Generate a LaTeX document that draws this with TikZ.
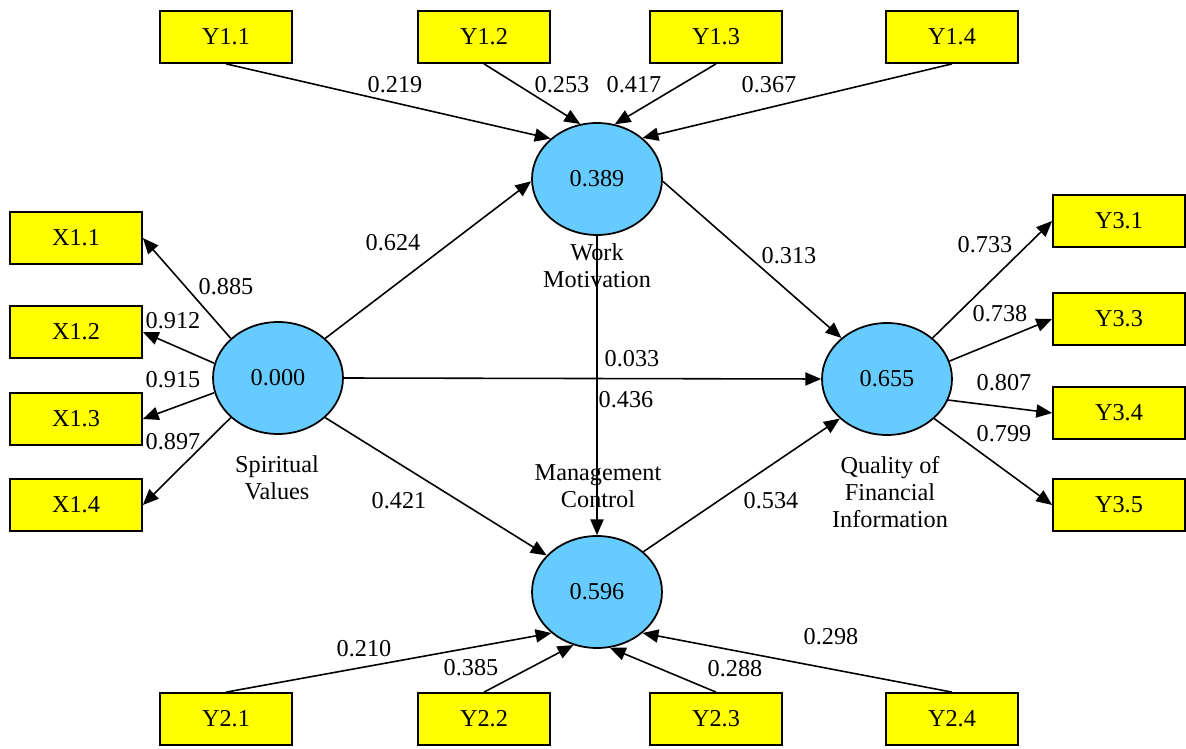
\documentclass[tikz,border=0pt]{standalone}
\usepackage{fontspec}
\setmainfont{Liberation Serif}
\usetikzlibrary{arrows.meta,shapes.geometric}
\definecolor{boxyellow}{HTML}{FFFF00}
\definecolor{latentblue}{HTML}{66CCFF}
\begin{document}
\begin{tikzpicture}[x=0.02cm,y=-0.02cm,
  font=\fontsize{13.8}{15.3}\selectfont,
  indicator/.style={draw=black,line width=1pt,fill=boxyellow,minimum width=2.64cm,minimum height=1.04cm,inner sep=0pt},
  latent/.style={ellipse,draw=black,line width=1pt,fill=latentblue,minimum width=2.6cm,minimum height=2.24cm,inner sep=0pt},
  conn/.style={line width=0.9pt,-{Triangle[length=9pt,width=7.5pt]}},
  lbl/.style={inner sep=0pt},
  caption/.style={align=center,inner sep=0pt}]
\useasboundingbox (0,0) rectangle (1186,749);
% latent variables
\node[latent] (SV) at (278,378) {0.000};
\node[latent] (WM) at (597,179) {0.389};
\node[latent] (QF) at (887,379) {0.655};
\node[latent] (MC) at (597,592) {0.596};
% top indicators
\node[indicator] (Y11) at (226,37) {Y1.1};
\node[indicator] (Y12) at (484,37) {Y1.2};
\node[indicator] (Y13) at (716,37) {Y1.3};
\node[indicator] (Y14) at (952,37) {Y1.4};
% bottom indicators
\node[indicator] (Y21) at (226,719) {Y2.1};
\node[indicator] (Y22) at (484,719) {Y2.2};
\node[indicator] (Y23) at (716,719) {Y2.3};
\node[indicator] (Y24) at (952,719) {Y2.4};
% left indicators
\node[indicator] (X11) at (76,238) {X1.1};
\node[indicator] (X12) at (76,332) {X1.2};
\node[indicator] (X13) at (76,419) {X1.3};
\node[indicator] (X14) at (76,505) {X1.4};
% right indicators
\node[indicator] (Y31) at (1119,221) {Y3.1};
\node[indicator] (Y33) at (1119,319) {Y3.3};
\node[indicator] (Y34) at (1119,413) {Y3.4};
\node[indicator] (Y35) at (1119,505) {Y3.5};
% connectors
\draw[conn] (Y11.south) -- (WM.139);
\draw[conn] (Y12.south) -- (WM.107);
\draw[conn] (Y13.south) -- (WM.72);
\draw[conn] (Y14.south) -- (WM.42);
\draw[conn] (Y21.north) -- (MC.222);
\draw[conn] (Y22.north) -- (MC.246);
\draw[conn] (Y23.north) -- (MC.283);
\draw[conn] (Y24.north) -- (MC.318);
\draw[conn] (SV.140) -- (X11.east);
\draw[conn] (SV.167) -- (X12.east);
\draw[conn] (SV.193) -- (X13.east);
\draw[conn] (SV.220) -- (X14.east);
\draw[conn] (QF.42) -- (Y31.west);
\draw[conn] (QF.16) -- (Y33.west);
\draw[conn] (QF.341) -- (Y34.west);
\draw[conn] (QF.320) -- (Y35.west);
\draw[conn] (SV.40) -- (WM.182);
\draw[conn] (SV.320) -- (MC.144);
\draw[conn] (SV.east) -- (QF.west);
\draw[conn] (WM.358) -- (QF.138);
\draw[conn] (WM.south) -- (MC.north);
\draw[conn] (MC.41) -- (QF.220);
% captions
\node[caption] (capSV) at (277,478) {Spiritual\\Values};
\node[caption] (capWM) at (597,266) {Work\\Motivation};
\node[caption] (capMC) at (598,486) {Management\\Control};
\node[caption] (capQF) at (890,492) {Quality of\\Financial\\Information};
% path labels
\node[lbl] (l1) at (395,85) {0.219};
\node[lbl] (l2) at (562,85) {0.253};
\node[lbl] (l3) at (634,85) {0.417};
\node[lbl] (l4) at (769,85) {0.367};
\node[lbl] (l5) at (393,243) {0.624};
\node[lbl] (l6) at (226,287) {0.885};
\node[lbl] (l7) at (173,321) {0.912};
\node[lbl] (l8) at (173,380) {0.915};
\node[lbl] (l9) at (173,442) {0.897};
\node[lbl] (l10) at (789,256) {0.313};
\node[lbl] (l11) at (632,359) {0.033};
\node[lbl] (l12) at (626,400) {0.436};
\node[lbl] (l13) at (399,501) {0.421};
\node[lbl] (l14) at (771,501) {0.534};
\node[lbl] (l15) at (985,245) {0.733};
\node[lbl] (l16) at (1000,314) {0.738};
\node[lbl] (l17) at (1004,383) {0.807};
\node[lbl] (l18) at (1004,434) {0.799};
\node[lbl] (l19) at (364,649) {0.210};
\node[lbl] (l20) at (471,668) {0.385};
\node[lbl] (l21) at (735,669) {0.288};
\node[lbl] (l22) at (831,637) {0.298};
\end{tikzpicture}
\end{document}
